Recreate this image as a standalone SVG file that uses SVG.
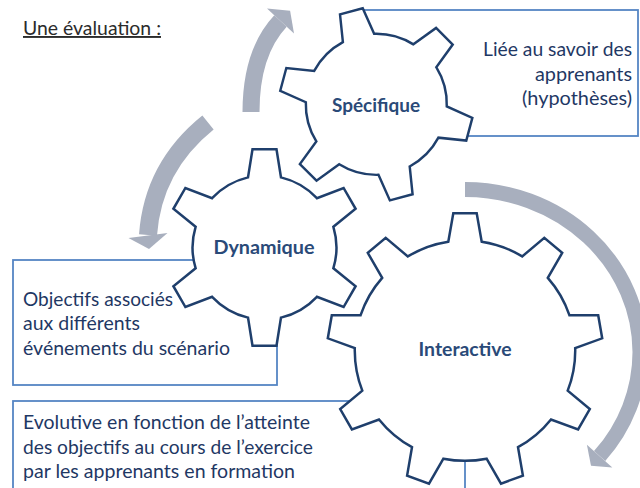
<svg xmlns="http://www.w3.org/2000/svg" width="640" height="488" viewBox="0 0 640 488">
<style>
.box{fill:none;stroke:#5585c4;stroke-width:1.8}
.gear{fill:#fff;stroke:#1f3f6c;stroke-width:2.5;stroke-linejoin:miter}
.band{fill:none;stroke:#a8afbe}
.head{fill:#a8afbe}
.lbl{font-family:Lato,"Liberation Sans",sans-serif;font-weight:bold;font-size:19px;fill:#2a4a78;text-anchor:middle}
.txt{font-family:Lato,"Liberation Sans",sans-serif;font-size:19px;fill:#1f3864}
.title{font-family:Lato,"Liberation Sans",sans-serif;font-size:19px;fill:#2b2b2b;text-decoration:underline}
</style>
<defs>
<path id="gear6" d="M-16.5,-70.1 L-12,-98.3 L12,-98.3 L16.5,-70.1 A72 72 0 0 1 52.4,-49.3 L79.1,-59.5 L91.1,-38.7 L68.9,-20.7 A72 72 0 0 1 68.9,20.7 L91.1,38.7 L79.1,59.5 L52.4,49.3 A72 72 0 0 1 16.5,70.1 L12,98.3 L-12,98.3 L-16.5,70.1 A72 72 0 0 1 -52.4,49.3 L-79.1,59.5 L-91.1,38.7 L-68.9,20.7 A72 72 0 0 1 -68.9,-20.7 L-91.1,-38.7 L-79.1,-59.5 L-52.4,-49.3 A72 72 0 0 1 -16.5,-70.1 Z"/>
</defs>

<text class="title" x="23" y="35" textLength="138" lengthAdjust="spacingAndGlyphs">Une évaluation :</text>

<g id="box-specifique">
<rect class="box" x="362" y="10" width="276" height="126"/>
<text class="txt" x="632" y="56" text-anchor="end" textLength="149" lengthAdjust="spacingAndGlyphs">Liée au savoir des</text>
<text class="txt" x="632" y="80.5" text-anchor="end" textLength="97" lengthAdjust="spacingAndGlyphs">apprenants</text>
<text class="txt" x="632" y="105" text-anchor="end" textLength="110" lengthAdjust="spacingAndGlyphs">(hypothèses)</text>
</g>

<g id="box-dynamique">
<rect class="box" x="13" y="260" width="264" height="125"/>
<text class="txt" x="23" y="305.5" textLength="150" lengthAdjust="spacingAndGlyphs">Objectifs associés</text>
<text class="txt" x="23" y="330" textLength="117" lengthAdjust="spacingAndGlyphs">aux différents</text>
<text class="txt" x="23" y="354.5" textLength="207" lengthAdjust="spacingAndGlyphs">événements du scénario</text>
</g>

<g id="box-interactive">
<rect class="box" x="13" y="401" width="452" height="100"/>
<text class="txt" x="23" y="429.3" textLength="287" lengthAdjust="spacingAndGlyphs">Evolutive en fonction de l’atteinte</text>
<text class="txt" x="23" y="454" textLength="290" lengthAdjust="spacingAndGlyphs">des objectifs au cours de l’exercice</text>
<text class="txt" x="23" y="478.3" textLength="272" lengthAdjust="spacingAndGlyphs">par les apprenants en formation</text>
</g>

<g id="connectors">
<path class="band" stroke-width="17" d="M251,112 C251,75 259,44 280.5,21"/>
<polygon class="head" points="267,8.4 290.1,10.8 294,33.6"/>
<path class="band" stroke-width="18" d="M208,122.5 C180,145 152,180 148,235"/>
<polygon class="head" points="128.5,238 149,249 167.5,233"/>
<path class="band" stroke-width="15" d="M465,189.5 A175 163 0 0 1 640,352 A175 163 0 0 1 599.6,456.1"/>
<polygon class="head" points="586.9,444.8 591,465.8 612.3,467.4"/>
</g>

<g id="gear-specifique">
<use href="#gear6" class="gear" transform="translate(376.3,104.3) rotate(-15) scale(0.98)"/>
<text class="lbl" x="376" y="111.5" textLength="88" lengthAdjust="spacingAndGlyphs">Spécifique</text>
</g>

<g id="gear-dynamique">
<use href="#gear6" class="gear" transform="translate(264.5,247.5)"/>
<text class="lbl" x="264" y="253.5" textLength="101" lengthAdjust="spacingAndGlyphs">Dynamique</text>
</g>

<g id="gear-interactive">
<path class="gear" transform="translate(465,350.6)" d="M-16.7,-108.9 L-11.7,-137.3 L11.7,-137.3 L16.7,-108.9 A110.2 110.2 0 0 1 57.2,-94.2 L79.3,-112.7 L97.2,-97.7 L82.8,-72.7 A110.2 110.2 0 0 1 104.4,-35.4 L133.2,-35.4 L137.2,-12.3 L110.2,-2.5 A110.2 110.2 0 0 1 102.7,40 L124.8,58.5 L113.1,78.8 L86,68.9 A110.2 110.2 0 0 1 53,96.6 L57.9,125 L36,133 L21.6,108.1 A110.2 110.2 0 0 1 -21.6,108.1 L-36,133 L-57.9,125 L-53,96.6 A110.2 110.2 0 0 1 -86,68.9 L-113.1,78.8 L-124.8,58.5 L-102.7,40 A110.2 110.2 0 0 1 -110.2,-2.5 L-137.2,-12.3 L-133.2,-35.4 L-104.4,-35.4 A110.2 110.2 0 0 1 -82.8,-72.7 L-97.2,-97.7 L-79.3,-112.7 L-57.2,-94.2 A110.2 110.2 0 0 1 -16.7,-108.9 Z"/>
<text class="lbl" x="465" y="355.7" textLength="93" lengthAdjust="spacingAndGlyphs">Interactive</text>
</g>
</svg>
